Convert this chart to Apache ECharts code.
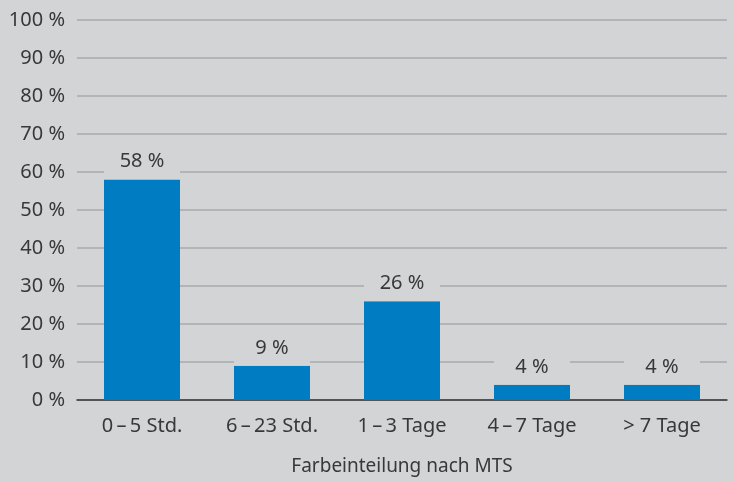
<!DOCTYPE html>
<html>
<head>
<meta charset="utf-8">
<script src="https://cdn.jsdelivr.net/npm/echarts@6/dist/echarts.min.js"></script>
<style>
html,body{margin:0;padding:0;background:#d3d4d6;}
#chart1{width:733px;height:482px;}
</style>
</head>
<body>
<div id="chart1"></div>
<script>
var categories = ['0\u2009\u2013\u20095 Std.', '6\u2009\u2013\u200923 Std.', '1\u2009\u2013\u20093 Tage', '4\u2009\u2013\u20097 Tage', '> 7 Tage'];
var values = [58, 9, 26, 4, 4];
var axisName = 'Farbeinteilung nach MTS';

var bg = '#d3d4d6';
var Chart1 = echarts.init(document.getElementById('chart1'));
var option1 = {
    backgroundColor: bg,
    textStyle: { fontFamily: 'Noto Sans' },
    grid: { left: 77, right: 6, top: 20, bottom: 82, outerBoundsMode: 'none', containLabel: false },
    xAxis: {
        type: 'category',
        data: categories,
        name: axisName,
        nameLocation: 'middle',
        nameGap: 57,
        nameTextStyle: { color: '#383838', fontSize: 19 },
        axisLine: { lineStyle: { color: '#333', width: 1.5 } },
        axisTick: { show: false },
        axisLabel: { color: '#383838', fontSize: 20, margin: 16 }
    },
    yAxis: {
        type: 'value',
        min: 0,
        max: 100,
        interval: 10,
        axisLabel: { color: '#383838', fontSize: 20, margin: 12, formatter: '{value} %' },
        splitLine: { lineStyle: { color: '#a9aaac', width: 1.5 } }
    },
    series: [{
        type: 'bar',
        data: values,
        barWidth: 76,
        itemStyle: { color: '#007cc3' },
        label: {
            show: true,
            position: 'top',
            distance: 0,
            formatter: '{c} %',
            color: '#383838',
            fontSize: 20,
            width: 76,
            align: 'center',
            backgroundColor: bg,
            padding: [4, 0, 8, 0]
        }
    }]
};
Chart1.setOption(option1);
</script>
</body>
</html>
